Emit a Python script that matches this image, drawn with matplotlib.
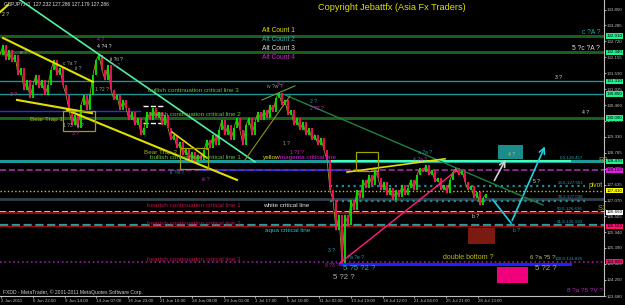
import numpy as np
import matplotlib
matplotlib.use('Agg')
import matplotlib.pyplot as plt
from matplotlib.patches import Rectangle

plt.rcParams['font.family'] = ['Liberation Sans', 'DejaVu Sans']

# GBPJPY H1 closes, one every 6 bars
closes = [132.24, 132.59, 132.06, 132.41, 131.99, 132.24, 131.53, 131.77, 130.99, 131.35,
          130.71, 131.17, 131.53, 131.06, 131.35, 130.82, 131.17, 131.70, 132.06, 131.53,
          131.77, 131.17, 130.82, 130.28, 129.75, 130.11, 129.64, 130.46, 130.82, 130.28,
          130.82, 131.53, 132.06, 132.24, 131.70, 131.35, 131.88, 130.99, 130.64, 130.82,
          130.28, 130.64, 130.35, 129.93, 130.21, 129.75, 130.00, 129.40, 129.64, 130.21,
          129.93, 130.35, 130.00, 130.21, 129.75, 130.11, 129.64, 129.22, 129.40, 128.93,
          129.15, 128.69, 128.93, 128.51, 128.79, 128.44, 128.69, 128.51, 128.86, 129.22,
          128.93, 129.40, 129.04, 129.57, 129.93, 129.40, 129.75, 129.22, 129.64, 130.00,
          129.57, 129.04, 129.75, 130.00, 129.40, 129.86, 130.21, 129.93, 130.28, 130.00,
          130.46, 130.21, 130.71, 130.89, 130.46, 130.64, 130.11, 130.28, 129.75, 130.00,
          129.57, 129.86, 129.40, 129.64, 129.22, 129.40, 129.04, 129.29, 128.86, 128.51,
          127.44, 127.09, 126.02, 126.56, 124.85, 126.56, 126.20, 127.09, 126.73, 127.44,
          127.16, 127.80, 127.51, 127.98, 127.62, 128.15, 127.87, 127.44, 127.73, 127.27,
          127.51, 127.09, 127.44, 127.19, 127.62, 127.27, 127.51, 127.80, 127.44, 127.98,
          128.22, 128.08, 128.33, 127.98, 128.15, 127.73, 127.87, 127.44, 127.62, 127.34,
          127.80, 128.08, 128.22, 127.98, 128.15, 127.73, 127.44, 127.59, 127.16, 127.37,
          126.91, 127.16, 127.29]

date_labels = ['2 Jun 2011', '6 Jun 22:00', '9 Jun 14:00', '14 Jun 07:00', '16 Jun 23:00',
               '21 Jun 16:00', '24 Jun 08:00', '29 Jun 01:00', '1 Jul 17:00', '6 Jul 10:00',
               '11 Jul 03:00', '13 Jul 19:00', '18 Jul 12:00', '21 Jul 04:00', '25 Jul 21:00',
               '28 Jul 13:00']
price_ticks = [123.680, 124.250, 124.820, 125.390, 125.940, 126.505, 127.070, 127.635,
               128.200, 128.765, 129.330, 129.895, 130.460, 131.025, 131.590, 132.155,
               132.720, 133.285, 133.850]

# full width levels: price, color, style, width
levels = [
    (132.91, '#1b5e1b', '-', 2.2),
    (132.34, '#1b5e1b', '-', 2.2),
    (131.31, '#1a9494', '-', 1.0),
    (130.85, '#1a9494', '-', 1.0),
    (130.00, '#1b5e1b', '-', 2.2),
    (128.47, '#1e9a9a', '-', 2.2),
    (128.15, '#a030a0', '--', 1.2),
    (127.41, '#c8c800', ':', 1.0),
    (127.12, '#33404a', '-', 2.0),
    (126.66, '#e8e8c8', '--', 1.2),
    (126.61, '#8b1010', '-', 1.5),
    (126.19, '#20a0a0', '--', 1.6),
    (126.15, '#a01010', '-', 1.0),
    (124.89, '#9020a0', ':', 1.2),
]

# partial levels: price, x0, x1, color, style, width
partial_levels = [
    (130.25, 0, 280, '#2a2aff', '-', 1.0),
    (128.15, 400, 690, '#3030ff', '--', 1.2),
    (128.47, 660, 1140, '#40ffb0', '-', 1.5),
    (127.58, 660, 1170, '#1a8a9a', ':', 1.6),
    (127.04, 660, 1170, '#1a8a9a', ':', 1.6),
    (124.825, 680, 1140, '#2020ff', '-', 2.2),
    (130.43, 286, 330, '#ffffff', '--', 1.0),
    (129.81, 286, 330, '#ffffff', '--', 1.0),
]

# trend lines: x0, p0, x1, p1, color, width
trend_lines = [
    (40, 134.19, 510, 128.44, '#50f0a0', 1.2),
    (570, 130.82, 1086, 126.91, '#208040', 1.0),
    (6, 132.84, 186, 131.28, '#e0e000', 1.5),
    (34, 130.64, 184, 130.17, '#e0e000', 1.5),
    (134, 130.28, 474, 127.80, '#e0e000', 1.5),
    (0, 133.76, 16, 134.01, '#e0e000', 1.5),
    (344, 129.50, 414, 128.58, '#e0e000', 1.2),
    (694, 128.08, 890, 128.55, '#e0e000', 1.2),
    (490, 128.51, 580, 130.78, '#909020', 0.8),
    (524, 130.64, 590, 131.14, '#60a040', 0.8),
    (680, 124.85, 914, 128.15, '#ff2080', 1.0),
]

# boxes: x0, p0, x1, p1, color, filled
boxes = [
    (996, 128.53, 1046, 129.04, '#1a8c8c', True),
    (936, 125.53, 990, 126.09, '#7a1a10', True),
    (994, 124.14, 1056, 124.71, '#f0007a', True),
    (126, 129.54, 190, 130.25, '#a0a000', False),
    (360, 128.19, 416, 128.93, '#a0a000', False),
    (712, 128.12, 756, 128.79, '#a0a000', False),
]

# right axis price boxes
axis_boxes = [
    (132.91, '#20f090'), (132.34, '#20f090'), (131.31, '#20f090'), (130.85, '#20f090'),
    (130.00, '#20f090'), (128.47, '#20f090'), (128.15, '#e020e0'), (127.41, '#ffff00'),
    (126.66, '#ffffff'), (126.16, '#ff1070'), (124.89, '#ff1070'),
]

# chart texts: x, price, text, color, size
texts = [
    (524, 133.09, 'Alt Count 1', '#e0e000', 4.8),
    (524, 132.77, 'Alt Count 2', '#20b0b0', 4.8),
    (524, 132.45, 'Alt Count 3', '#e0e0e0', 4.8),
    (524, 132.13, 'Alt Count 4', '#d020d0', 4.8),
    (296, 130.99, 'bullish continuation critical line 3', '#60c040', 4.6),
    (300, 130.11, 'bullish continuation critical line 2', '#60c040', 4.6),
    (60, 129.96, 'Bear Trap 1', '#a0b020', 4.6),
    (288, 128.76, 'Bear Trap 2', '#a0b020', 4.6),
    (300, 128.61, 'bullish continuation critical line 1', '#60c040', 4.6),
    (526, 128.61, 'yellow', '#e0e000', 4.6),
    (556, 128.61, '/magenta critical line', '#d020d0', 4.6),
    (294, 126.88, 'bearish continuation critical line 1', '#c0104a', 4.6),
    (526, 126.88, 'white critical line', '#e0e0e0', 4.6),
    (294, 126.27, 'bearish continuation critical line 2', '#c0104a', 4.6),
    (530, 126.02, 'aqua critical line', '#20c0c0', 4.6),
    (294, 124.99, 'bearish continuation critical line 3', '#c0104a', 4.6),
    (886, 125.03, 'double bottom ?', '#c0c000', 5.0),
    (6, 123.82, 'FXDD - MetaTrader, \u00a9 2001-2011 MetaQuotes Software Corp.', '#d0d0d0', 3.6),
    (1120, 128.58, '0.0-128.457', '#20a0b0', 3.2),
    (1116, 127.69, '23.6-127.561', '#20a0b0', 3.2),
    (1116, 127.19, '38.2-127.038', '#20a0b0', 3.2),
    (1114, 126.77, '50.0-126.636', '#20a0b0', 3.2),
    (1114, 126.31, '61.8-126.193', '#20a0b0', 3.2),
    (1110, 124.99, '100.0-124.825', '#20a0b0', 3.2),
    (1178, 127.59, 'pivot', '#d0d000', 4.8),
    (1196, 128.49, 'R3', '#a0a000', 5.5),
    (1196, 126.80, 'S1', '#a0a000', 5.5),
    # wave counts
    (4, 133.66, '2 ?', '#e0e0a0', 3.6),
    (194, 132.77, '4 ?', '#d020d0', 3.8),
    (194, 132.52, '4 ?4 ?', '#e0e0e0', 3.8),
    (220, 132.06, 'ii ?ii ?', '#e0e0e0', 3.6),
    (226, 131.88, 'a ?', '#d020d0', 3.6),
    (40, 132.31, 'e ?', '#a0a0a0', 3.6),
    (126, 131.95, 'c ?a ?', '#a0a0a0', 3.6),
    (150, 131.77, 'ii ?', '#a0a0a0', 3.6),
    (20, 130.85, '3 ?', '#ff2080', 3.6),
    (190, 131.00, '1 ?2 ?', '#a0a0a0', 3.6),
    (126, 129.75, '1 ?3 ?a ?', '#a0a0a0', 3.6),
    (144, 129.46, '3 ?', '#d020d0', 3.6),
    (340, 128.05, 'ii ?iii ?', '#20a0b0', 3.6),
    (404, 127.83, 'iii ?', '#d020d0', 3.6),
    (534, 131.13, 'iv ?w ?', '#a0a0a0', 3.6),
    (554, 131.24, 'a ?', '#d020d0', 3.6),
    (566, 129.11, '1 ?', '#a0a0a0', 3.6),
    (580, 128.79, '1 ?1 ?', '#d020d0', 3.6),
    (620, 130.57, '2 ?', '#20a0b0', 3.6),
    (620, 130.32, '2 ?2 ?', '#d020d0', 3.6),
    (1110, 131.45, '3 ?', '#e0e0e0', 3.6),
    (1164, 130.18, '4 ?', '#e0e0e0', 3.6),
    (1164, 133.05, 'c ?A ?', '#20b0b0', 4.8),
    (1144, 132.48, '5 ?c ?A ?', '#e0e0e0', 4.8),
    (836, 128.79, 'a ?a ?', '#20a0b0', 3.6),
    (826, 128.54, '4 ?a ?', '#d020d0', 3.6),
    (1016, 128.69, '4 ?', '#c0c060', 3.6),
    (1066, 127.73, '5 ?', '#e0e0e0', 3.6),
    (944, 126.49, 'b ?', '#e0e0e0', 3.6),
    (1026, 125.99, 'b ?', '#20a0b0', 3.6),
    (656, 125.31, '3 ?', '#20a0b0', 3.6),
    (686, 125.06, 'a ?a ?e ?', '#20a0b0', 3.6),
    (650, 124.78, '8 ?3 ?', '#d020d0', 3.6),
    (686, 124.67, '5 ?5 ?2 ?', '#20b0d0', 5.6),
    (666, 124.35, '5 ?2 ?', '#b0b0b0', 5.6),
    (1060, 125.03, '6 ?a ?5 ?', '#c0c060', 4.4),
    (1070, 124.67, '5 ?2 ?', '#c0c040', 5.6),
    (1134, 123.89, '8 ?a ?5 ?V ?', '#c020c0', 4.6),
]


def main():
    fig = plt.figure(figsize=(6.25, 3.05), dpi=100, facecolor='black')
    ax = fig.add_axes([0, 0.0295, 0.9664, 0.9705], facecolor='black')
    ax.set_xlim(0, 1208)
    ax.set_ylim(123.68, 134.188)

    for p, c, ls, lw in levels:
        ax.axhline(p, color=c, ls=ls, lw=lw, zorder=1)
    for p, x0, x1, c, ls, lw in partial_levels:
        ax.plot([x0, x1], [p, p], color=c, ls=ls, lw=lw, zorder=2)

    # candles as bodies from previous close
    cl = np.array(closes)
    xs = np.arange(len(cl)) * 6
    ax.plot(xs, cl, color='#9a9a20', lw=0.6, zorder=3)
    opens = np.r_[cl[0], cl[:-1]]
    up = cl >= opens
    ax.vlines(xs[up], opens[up], cl[up], color='#00e800', lw=1.3, zorder=4)
    ax.vlines(xs[~up], opens[~up], cl[~up], color='#ff1060', lw=1.3, zorder=4)

    for x0, p0, x1, p1, c, lw in trend_lines:
        ax.plot([x0, x1], [p0, p1], color=c, lw=lw, zorder=5)

    for x0, p0, x1, p1, c, filled in boxes:
        if filled:
            ax.add_patch(Rectangle((x0, p0), x1 - x0, p1 - p0, facecolor=c, edgecolor='none', zorder=2))
        else:
            ax.add_patch(Rectangle((x0, p0), x1 - x0, p1 - p0, facecolor='none', edgecolor=c, lw=0.9, zorder=5))

    # projection arrows
    ax.plot([986, 1022], [127.09, 126.27], color='#20d0e0', lw=1.2, zorder=6)
    ax.annotate('', xy=(1092, 129.08), xytext=(1022, 126.27),
                arrowprops=dict(arrowstyle='->', color='#20d0e0', lw=1.2))
    ax.annotate('', xy=(1014, 128.61), xytext=(986, 127.69),
                arrowprops=dict(arrowstyle='->', color='#d0d0d0', lw=1.2))

    for x, p, s, c, fs in texts:
        ax.text(x, p, s, color=c, fontsize=fs, ha='left', va='center', zorder=7)

    ax.text(0.526, 0.976, 'Copyright Jebattfx (Asia Fx Traders)', transform=ax.transAxes,
            color='#e0e000', fontsize=6.6, ha='left', va='center')
    ax.text(0.007, 0.986, 'GBPJPY,H1  127.232 127.286 127.179 127.286', transform=ax.transAxes,
            color='#e0e0e0', fontsize=3.6, ha='left', va='center')

    # axes styling
    for side in ['top', 'left']:
        ax.spines[side].set_visible(False)
    for side in ['right', 'bottom']:
        ax.spines[side].set_color('#c0c0c0')
        ax.spines[side].set_linewidth(0.8)
    ax.yaxis.tick_right()
    ax.set_yticks(price_ticks)
    ax.set_yticklabels(['%.3f' % v for v in price_ticks])
    ax.set_xticks(np.arange(len(date_labels)) * 63.6 + 2)
    ax.set_xticklabels(date_labels, ha='left')
    ax.tick_params(colors='#c0c0c0', labelsize=3.2, length=1.5, width=0.6, pad=0.6)

    for p, c in axis_boxes:
        ax.text(1.004, p, '%.3f' % p, transform=ax.get_yaxis_transform(), color='black',
                fontsize=3.2, ha='left', va='center', clip_on=False, zorder=8,
                bbox=dict(boxstyle='square,pad=0.12', facecolor=c, edgecolor='none'))

    fig.savefig('out.png', dpi=100, facecolor='black')


if __name__ == "__main__":
    main()
